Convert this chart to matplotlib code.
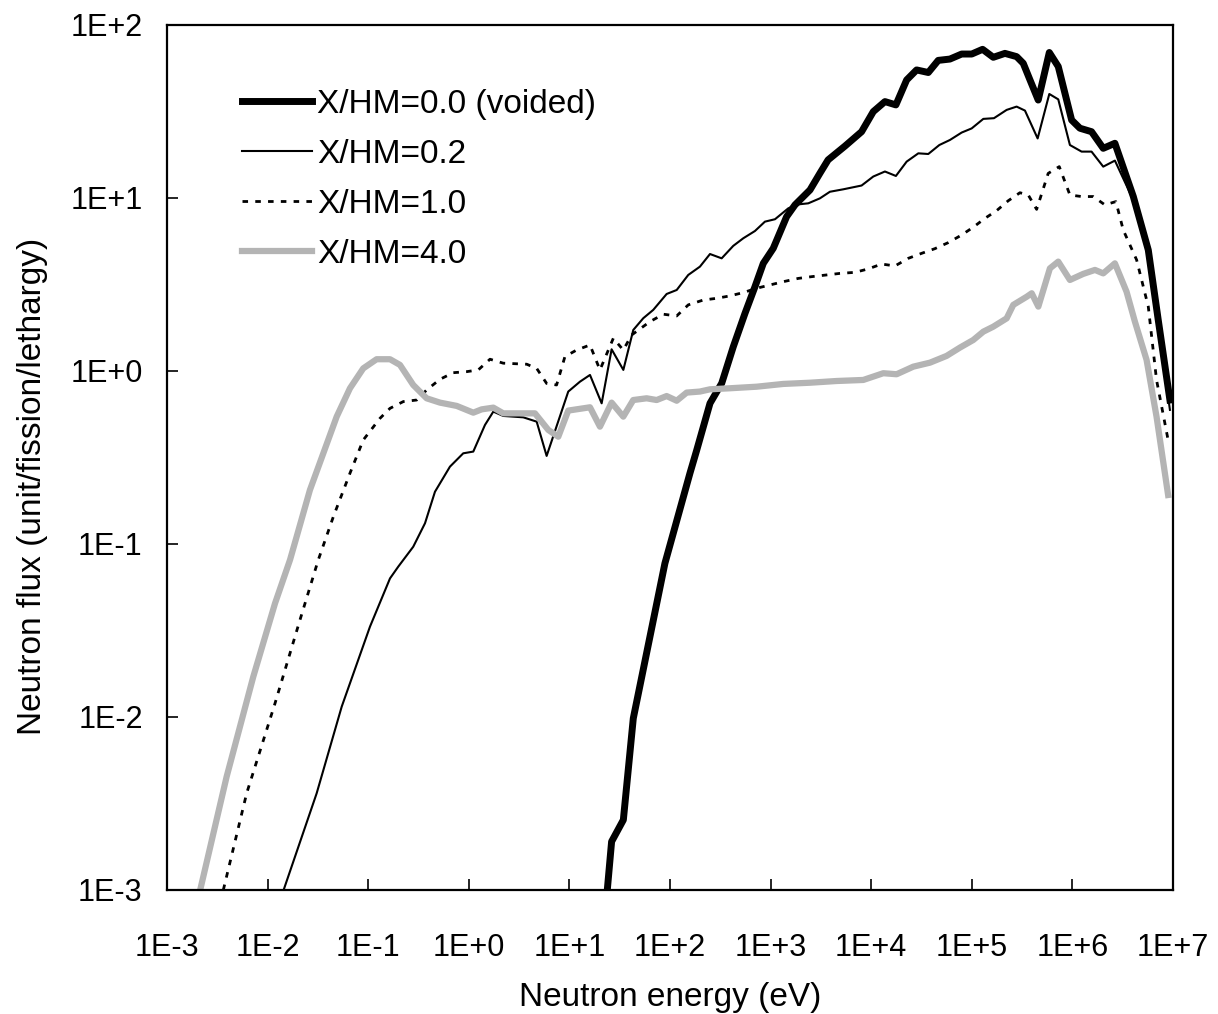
import numpy as np
import matplotlib
matplotlib.use("Agg")
import matplotlib.pyplot as plt

# (energy in eV, flux in unit/fission/lethargy)
e_void = [23.4, 26.3, 34.4, 43.2, 89.1, 158, 184, 250, 327, 426, 557, 700, 847,
          1064, 1445, 1750, 2466, 3097, 3733, 5495, 8035, 1.05e4, 1.371e4,
          1.762e4, 2.254e4, 2.831e4, 3.698e4, 4.645e4, 6.067e4, 7.943e4, 1.0e5,
          1.282e5, 1.637e5, 2.138e5, 2.793e5, 3.251e5, 3.793e5, 4.581e5,
          5.902e5, 7.244e5, 9.84e5, 1.189e6, 1.552e6, 2.028e6, 2.649e6,
          4.036e6, 5.689e6, 7.145e6, 9.333e6]
f_void = [8.91e-4, 1.905e-3, 2.541e-3, 9.82e-3, 0.0773, 0.2564, 0.3467, 0.650,
          0.849, 1.380, 2.153, 3.069, 4.188, 5.117, 7.798, 9.12, 11.12, 13.9,
          16.6, 19.95, 24.15, 31.55, 36.06, 34.5, 48.1, 54.95, 53.1, 62.4, 63.5,
          67.9, 67.9, 72.3, 65.0, 68.5, 65.6, 60.0, 48.1, 36.8, 69.3, 57.5, 28.2,
          25.3, 24.15, 19.36, 20.7, 10.2, 5.0, 1.97, 0.679]

e_02 = [0.01349, 0.03076, 0.05458, 0.1042, 0.1648, 0.1991, 0.2805, 0.3673,
        0.4613, 0.6501, 0.881, 1.109, 1.449, 1.754, 2.203, 3.483, 4.732, 5.943,
        9.75, 12.74, 16.03, 20.94, 26.3, 34.4, 43.2, 54.3, 68.2, 92.7, 116.7,
        152, 198.6, 250, 326.6, 425.6, 535.8, 699.8, 879, 1107, 1500, 1888,
        2371, 3097, 3890, 5284, 8035, 1.05e4, 1.371e4, 1.762e4, 2.254e4,
        2.944e4, 3.698e4, 4.764e4, 6.067e4, 7.943e4, 9.98e4, 1.303e5, 1.663e5,
        2.223e5, 2.793e5, 3.381e5, 4.519e5, 5.902e5, 7.244e5, 9.46e5, 1.236e6,
        1.552e6, 2.028e6, 2.649e6, 4.036e6, 5.689e6, 7.145e6, 9.333e6]
f_02 = [8.91e-4, 3.622e-3, 0.01148, 0.03327, 0.06324, 0.07396, 0.09638, 0.1318,
        0.2004, 0.2799, 0.3342, 0.342, 0.4875, 0.5821, 0.5495, 0.5395, 0.5093,
        0.3228, 0.7603, 0.867, 0.9484, 0.6501, 1.334, 1.014, 1.726, 2.018,
        2.254, 2.786, 2.938, 3.589, 4.009, 4.742, 4.477, 5.284, 5.848, 6.442,
        7.295, 7.534, 8.71, 9.18, 9.31, 9.95, 10.86, 11.22, 11.8, 13.3, 14.22,
        13.4, 16.22, 18.11, 17.95, 20.23, 21.63, 23.88, 25.23, 28.64, 28.91,
        32.28, 33.73, 31.99, 22.08, 39.9, 37.15, 20.23, 18.53, 18.53, 15.17,
        16.44, 9.73, 4.68, 1.845, 0.5957]

e_10 = [3.631e-3, 6.194e-3, 0.01186, 0.02099, 0.03192, 0.04508, 0.06592,
        0.08933, 0.1309, 0.1648, 0.2234, 0.3034, 0.381, 0.5176, 0.7015, 0.9528,
        1.242, 1.626, 2.203, 3.767, 4.732, 5.943, 7.464, 9.036, 11.8, 16.03,
        20.14, 27.35, 34.36, 41.59, 63.24, 85.9, 116.7, 152.1, 214.3, 291.1,
        394.5, 535.8, 727.8, 986.3, 1337, 1888, 2559, 3606, 4898, 6902, 9354,
        1.271e4, 1.726e4, 2.339e4, 3.177e4, 4.305e4, 5.848e4, 7.943e4, 1.035e5,
        1.352e5, 1.770e5, 2.307e5, 3.013e5, 3.648e5, 4.416e5, 5.754e5, 7.413e5,
        9.462e5, 1.236e6, 1.611e6, 2.109e6, 2.710e6, 3.206e6, 4.355e6, 5.689e6,
        6.871e6, 8.954e6]
f_10 = [1.0e-3, 3.622e-3, 0.012, 0.03639, 0.08091, 0.1439, 0.2564, 0.399,
        0.5321, 0.6081, 0.6653, 0.6792, 0.7762, 0.8954, 0.9772, 0.9908, 1.014,
        1.169, 1.109, 1.094, 1.035, 0.8472, 0.8299, 1.211, 1.321, 1.413, 1.014,
        1.545, 1.321, 1.614, 1.928, 2.128, 2.080, 2.410, 2.570, 2.630, 2.716,
        2.838, 3.006, 3.141, 3.281, 3.428, 3.508, 3.589, 3.664, 3.715, 3.890,
        4.150, 4.046, 4.477, 4.786, 5.093, 5.521, 6.109, 6.776, 7.621, 8.453,
        9.638, 10.72, 10.40, 8.590, 13.87, 15.17, 10.40, 10.19, 10.19, 9.120,
        9.528, 6.531, 4.385, 2.355, 0.8872, 0.399]

e_40 = [2.138e-3, 3.917e-3, 7.211e-3, 0.01186, 0.01671, 0.01945, 0.02636,
        0.03581, 0.04864, 0.06592, 0.08933, 0.1213, 0.1648, 0.207, 0.2805,
        0.381, 0.5176, 0.7586, 1.109, 1.343, 1.754, 2.203, 4.550, 6.180, 7.762,
        9.750, 16.03, 20.14, 26.30, 34.36, 43.15, 58.61, 73.79, 92.68, 116.7,
        146.6, 198.6, 250.0, 394.5, 727.8, 1337, 2466, 4539, 8356, 1.321e4,
        1.791e4, 2.624e4, 3.846e4, 5.623e4, 7.638e4, 1.035e5, 1.303e5, 1.637e5,
        2.223e5, 2.588e5, 3.516e5, 3.945e5, 4.592e5, 5.984e5, 7.244e5, 9.462e5,
        1.282e6, 1.679e6, 2.028e6, 2.649e6, 3.459e6, 4.188e6, 5.470e6, 6.871e6,
        8.954e6]
f_40 = [1.0e-3, 4.519e-3, 0.0171, 0.04539, 0.08091, 0.1102, 0.2051, 0.3342,
        0.5445, 0.7943, 1.035, 1.169, 1.169, 1.084, 0.8299, 0.6950, 0.6561,
        0.6281, 0.5741, 0.5998, 0.6138, 0.5689, 0.5689, 0.4560, 0.4169, 0.5902,
        0.6166, 0.4764, 0.6561, 0.5445, 0.6792, 0.6950, 0.6792, 0.7161, 0.6730,
        0.7499, 0.7603, 0.7834, 0.7943, 0.8110, 0.8414, 0.8551, 0.8750, 0.8872,
        0.9705, 0.9572, 1.059, 1.117, 1.222, 1.365, 1.510, 1.687, 1.803, 2.014,
        2.410, 2.685, 2.812, 2.355, 3.917, 4.285, 3.357, 3.639, 3.837, 3.664,
        4.188, 2.871, 1.928, 1.159, 0.5445, 0.1919]

labels = ["X/HM=0.0 (voided)", "X/HM=0.2", "X/HM=1.0", "X/HM=4.0"]
x_ticks = [1e-3, 1e-2, 1e-1, 1e0, 1e1, 1e2, 1e3, 1e4, 1e5, 1e6, 1e7]
x_ticklabels = ["1E-3", "1E-2", "1E-1", "1E+0", "1E+1", "1E+2", "1E+3",
                "1E+4", "1E+5", "1E+6", "1E+7"]
y_ticks = [1e-3, 1e-2, 1e-1, 1e0, 1e1, 1e2]
y_ticklabels = ["1E-3", "1E-2", "1E-1", "1E+0", "1E+1", "1E+2"]

plt.rcParams["font.family"] = ["Liberation Sans", "DejaVu Sans"]
plt.rcParams["font.size"] = 24

fig = plt.figure(figsize=(12.18, 10.14), dpi=100)
ax = fig.add_axes([0.1371, 0.1223, 0.8259, 0.8531])

ax.plot(e_void, f_void, color="black", lw=5, label=labels[0])
ax.plot(e_02, f_02, color="black", lw=1.5, label=labels[1])
ax.plot(e_10, f_10, color="black", lw=2, linestyle=(0, (2, 2.6)), label=labels[2])
ax.plot(e_40, f_40, color="#b4b4b4", lw=4.5, label=labels[3])

ax.set_xscale("log")
ax.set_yscale("log")
ax.set_xlim(1e-3, 1e7)
ax.set_ylim(1e-3, 1e2)
ax.set_xticks(x_ticks)
ax.set_xticklabels(x_ticklabels)
ax.set_yticks(y_ticks)
ax.set_yticklabels(y_ticklabels)
ax.minorticks_off()
ax.tick_params(direction="in", length=8, width=1.2, labelsize=22)
ax.tick_params(axis="x", pad=31)
ax.tick_params(axis="y", pad=17.5)
for s in ax.spines.values():
    s.set_linewidth(1.6)

ax.set_xlabel("Neutron energy (eV)")
ax.set_ylabel("Neutron flux (unit/fission/lethargy)")
ax.xaxis.set_label_coords(0.5, -0.106)
ax.yaxis.set_label_coords(-0.118, 0.467)

ax.legend(loc="upper left", bbox_to_anchor=(0.0745, 0.926), frameon=False,
          borderpad=0, borderaxespad=0, handlelength=2.1, handletextpad=0.15,
          labelspacing=0.57)

fig.savefig("out.png", dpi=100)
